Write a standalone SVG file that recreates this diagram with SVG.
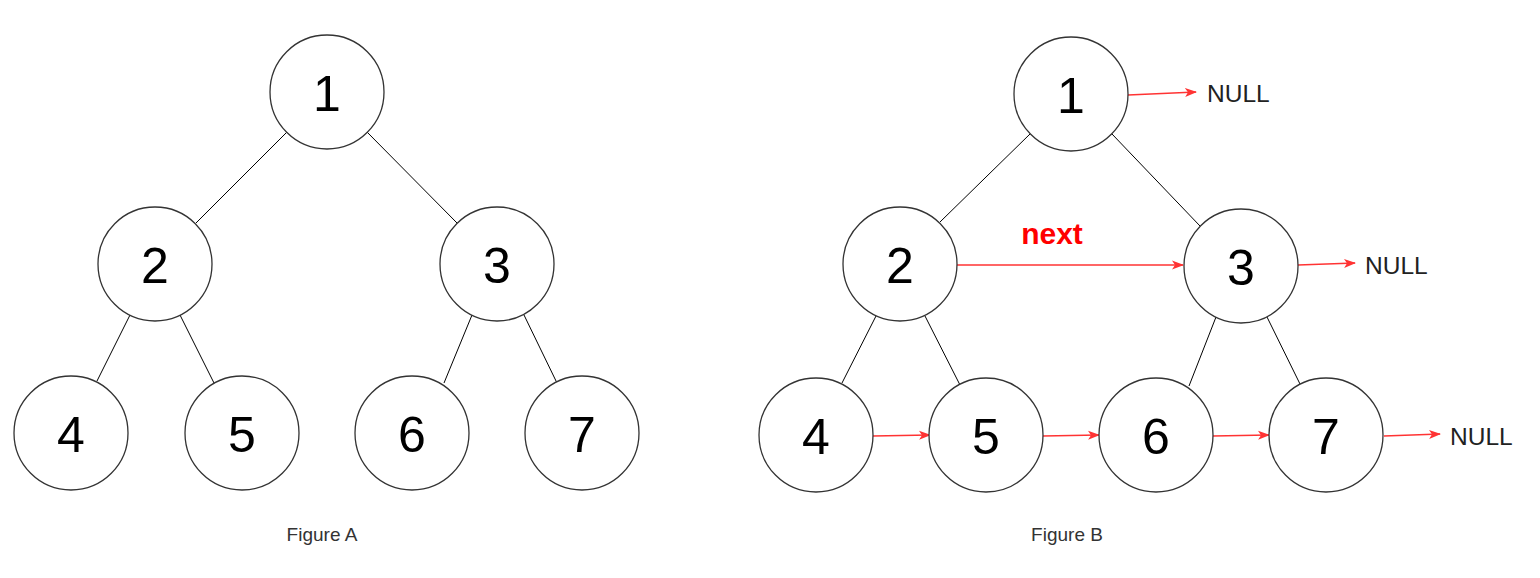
<svg xmlns="http://www.w3.org/2000/svg" width="1540" height="578" viewBox="0 0 1540 578">
<style>
.n circle{fill:#fff;stroke:#333;stroke-width:1.3}
.n text{font-family:"Liberation Sans",Arial,sans-serif;font-size:50px;fill:#000;text-anchor:middle;dominant-baseline:central}
.e line{stroke:#000;stroke-width:1}
.r line{stroke:#ff3333;stroke-width:1.5}
.lbl{font-family:"Liberation Sans",Arial,sans-serif;font-size:24.5px;fill:#222;dominant-baseline:central}
.cap{font-family:"Liberation Sans",Arial,sans-serif;font-size:19px;fill:#333;text-anchor:middle;dominant-baseline:central}
</style>
<defs>
<marker id="ah" markerWidth="12" markerHeight="10" refX="11" refY="5" orient="auto" markerUnits="userSpaceOnUse">
<path d="M0,0.5 L12,5 L0,9.5 L3,5 Z" fill="#ff3333"/>
</marker>
</defs>
<rect width="1540" height="578" fill="#fff"/>
<g id="connectors">
<g class="e">
<line x1="287" y1="132" x2="196" y2="223"/>
<line x1="367" y1="132" x2="457" y2="223"/>
<line x1="130" y1="315" x2="97" y2="381"/>
<line x1="180" y1="315" x2="214" y2="383"/>
<line x1="472" y1="315" x2="444" y2="383"/>
<line x1="524" y1="315" x2="557" y2="383"/>
<line x1="1030" y1="134" x2="940" y2="222"/>
<line x1="1112" y1="134" x2="1200" y2="226"/>
<line x1="876" y1="316" x2="842" y2="383"/>
<line x1="925" y1="316" x2="960" y2="385"/>
<line x1="1216" y1="317" x2="1189" y2="386"/>
<line x1="1267" y1="317" x2="1300" y2="384"/>
</g>
<g class="r">
<line x1="1128" y1="95" x2="1196" y2="92" marker-end="url(#ah)"/>
<line x1="957" y1="265" x2="1183" y2="265" marker-end="url(#ah)"/>
<line x1="1298" y1="265" x2="1355" y2="263" marker-end="url(#ah)"/>
<line x1="873" y1="436" x2="930" y2="435" marker-end="url(#ah)"/>
<line x1="1043" y1="436" x2="1099" y2="435" marker-end="url(#ah)"/>
<line x1="1213" y1="436" x2="1269" y2="435" marker-end="url(#ah)"/>
<line x1="1384" y1="436" x2="1440" y2="434" marker-end="url(#ah)"/>
</g>
</g>
<g id="a1" class="n"><circle cx="327" cy="92" r="57"/><text x="327" y="94">1</text></g>
<g id="a2" class="n"><circle cx="155" cy="264" r="57"/><text x="155" y="266">2</text></g>
<g id="a3" class="n"><circle cx="497" cy="264" r="57"/><text x="497" y="266">3</text></g>
<g id="a4" class="n"><circle cx="71" cy="433" r="57"/><text x="71" y="435">4</text></g>
<g id="a5" class="n"><circle cx="242" cy="433" r="57"/><text x="242" y="435">5</text></g>
<g id="a6" class="n"><circle cx="412" cy="433" r="57"/><text x="412" y="435">6</text></g>
<g id="a7" class="n"><circle cx="582" cy="433" r="57"/><text x="582" y="435">7</text></g>
<g id="b1" class="n"><circle cx="1071" cy="94" r="57"/><text x="1071" y="96">1</text></g>
<g id="b2" class="n"><circle cx="900" cy="264" r="57"/><text x="900" y="266">2</text></g>
<g id="b3" class="n"><circle cx="1241" cy="266" r="57"/><text x="1241" y="268">3</text></g>
<g id="b4" class="n"><circle cx="816" cy="435" r="57"/><text x="816" y="437">4</text></g>
<g id="b5" class="n"><circle cx="986" cy="435" r="57"/><text x="986" y="437">5</text></g>
<g id="b6" class="n"><circle cx="1156" cy="435" r="57"/><text x="1156" y="437">6</text></g>
<g id="b7" class="n"><circle cx="1326" cy="435" r="57"/><text x="1326" y="437">7</text></g>
<g id="labels">
<text class="lbl" x="1207" y="93">NULL</text>
<text class="lbl" x="1365" y="265">NULL</text>
<text class="lbl" x="1450" y="436">NULL</text>
<text x="1052" y="233" font-family="Liberation Sans,Arial,sans-serif" font-size="30" font-weight="bold" fill="#ff0000" text-anchor="middle" dominant-baseline="central">next</text>
<text class="cap" x="322" y="534">Figure A</text>
<text class="cap" x="1067" y="534">Figure B</text>
</g>
</svg>
